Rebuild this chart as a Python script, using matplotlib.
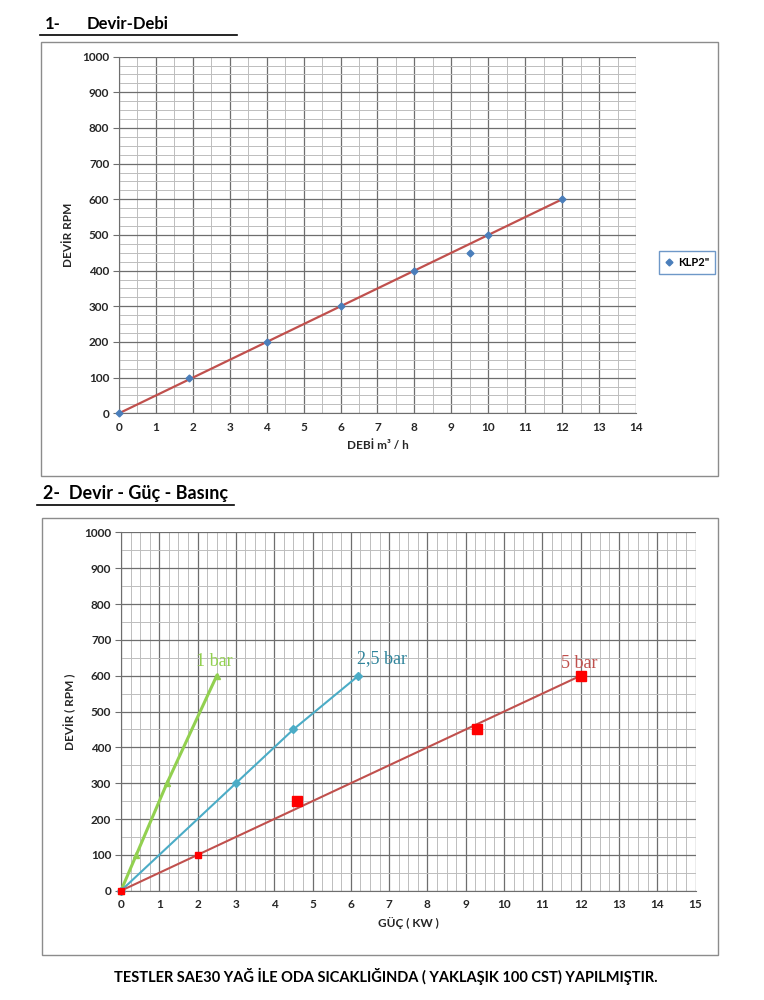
import numpy as np
import matplotlib.pyplot as plt
from matplotlib.patches import Rectangle
from matplotlib.lines import Line2D
from matplotlib.ticker import MultipleLocator

plt.rcParams['font.family'] = ['Lato', 'DejaVu Sans']

# 1- Devir-Debi
debi = [0, 1.9, 4, 6, 8, 9.5, 10, 12]
devir1 = [0, 100, 200, 300, 400, 450, 500, 600]
trend1_x = [0, 12]
trend1_y = [0, 600]

# 2- Devir - Güç - Basınç
guc_1bar = [0, 0.4, 1.2, 2.5]
devir_1bar = [0, 100, 300, 600]
guc_25bar = [0, 3, 4.5, 6.2]
devir_25bar = [0, 300, 450, 600]
guc_5bar = [0, 2, 4.6, 9.3, 12]
devir_5bar = [0, 100, 250, 450, 600]
trend5_x = [0, 12]
trend5_y = [0, 600]

fig = plt.figure(figsize=(7.64, 10), dpi=100)

# outer frames, titles, underlines
def frame(x0, y0, x1, y1):
    fig.patches.append(Rectangle((x0 / 764, 1 - y1 / 1000), (x1 - x0) / 764, (y1 - y0) / 1000,
                                 transform=fig.transFigure, fill=False, ec='#8c8c8c', lw=1.0))

frame(41, 42, 718, 476)
frame(42, 518, 718, 955)
fig.text(45 / 764, 1 - 29 / 1000, '1-', fontsize=12, fontweight='bold', va='baseline')
fig.text(87 / 764, 1 - 29 / 1000, 'Devir-Debi', fontsize=12, fontweight='bold', va='baseline')
fig.add_artist(Line2D([40 / 764, 237 / 764], [1 - 35 / 1000] * 2, color='black', lw=1.2))
fig.text(43 / 764, 1 - 499 / 1000, '2-  Devir - Güç - Basınç', fontsize=13, fontweight='bold', va='baseline')
fig.add_artist(Line2D([37 / 764, 234 / 764], [1 - 505 / 1000] * 2, color='black', lw=1.2))
fig.text(386 / 764, 1 - 976 / 1000, 'TESTLER SAE30 YAĞ İLE ODA SICAKLIĞINDA ( YAKLAŞIK 100 CST) YAPILMIŞTIR.',
         fontsize=10.5, fontweight='bold', ha='center', va='center')


def style(ax, xmax, xminor, yminor):
    ax.set_xlim(0, xmax)
    ax.set_ylim(0, 1000)
    ax.xaxis.set_major_locator(MultipleLocator(1))
    ax.xaxis.set_minor_locator(MultipleLocator(xminor))
    ax.yaxis.set_major_locator(MultipleLocator(100))
    ax.yaxis.set_minor_locator(MultipleLocator(yminor))
    ax.grid(which='major', color='#6e6e6e', lw=0.9)
    ax.grid(which='minor', color='#bdbdbd', lw=0.7)
    ax.set_axisbelow(True)
    for s in ['top', 'right']:
        ax.spines[s].set_visible(False)
    ax.spines['left'].set_color('#6e6e6e')
    ax.spines['bottom'].set_color('#6e6e6e')
    ax.tick_params(which='minor', length=0)
    ax.tick_params(axis='y', which='major', length=4, color='#6e6e6e', labelsize=8.5, pad=3)
    ax.tick_params(axis='x', which='major', length=0, labelsize=8.5, pad=6)
    for lab in ax.get_xticklabels() + ax.get_yticklabels():
        lab.set_fontweight('bold')
        lab.set_color('#262626')


# chart 1
ax1 = fig.add_axes([119 / 764, 1 - 413.3 / 1000, 517 / 764, 356.7 / 1000])
style(ax1, 14, 0.5, 25)
ax1.plot(trend1_x, trend1_y, color='#c0504d', lw=1.6, zorder=3)
ax1.plot(debi, devir1, ls='none', marker='D', ms=3.5, color='#4a7ebb', zorder=4, clip_on=False, label='KLP2"')
ax1.set_xlabel('DEBİ m³ / h', fontsize=8.5, fontweight='bold', color='#262626', labelpad=5)
ax1.set_ylabel('DEVİR RPM', fontsize=8.5, fontweight='bold', color='#262626', labelpad=6)
leg = ax1.legend(loc='center left', bbox_to_anchor=(653 / 764, 1 - 262.5 / 1000), bbox_transform=fig.transFigure,
                 fontsize=8, frameon=True, fancybox=False, edgecolor='#4a7ebb', handlelength=0.8,
                 handletextpad=0.4, borderpad=0.55, markerscale=1.0)
leg.get_frame().set_linewidth(1.0)
for t in leg.get_texts():
    t.set_fontweight('bold')

# chart 2
ax2 = fig.add_axes([121 / 764, 1 - 890.7 / 1000, 574.5 / 764, 358.3 / 1000])
style(ax2, 15, 0.25, 50)
ax2.plot(guc_1bar, devir_1bar, color='#92d050', lw=2.2, marker='^', ms=5, zorder=3, clip_on=False)
ax2.plot(guc_25bar, devir_25bar, color='#4bacc6', lw=1.5, marker='D', ms=4, zorder=3, clip_on=False)
ax2.plot(trend5_x, trend5_y, color='#c0504d', lw=1.5, zorder=3)
ax2.plot(guc_5bar, devir_5bar, ls='none', marker='s', color='#ff0000', zorder=4, clip_on=False,
         ms=5)
ax2.plot(guc_5bar[2:], devir_5bar[2:], ls='none', marker='s', color='#ff0000', zorder=4, ms=7.5)
ax2.text(1.95, 628, '1 bar', color='#92d050', fontsize=13, family='Liberation Serif')
ax2.text(6.15, 635, '2,5 bar', color='#31859c', fontsize=13, family='Liberation Serif')
ax2.text(11.5, 622, '5 bar', color='#c0504d', fontsize=13, family='Liberation Serif')
ax2.set_xlabel('GÜÇ ( KW )', fontsize=8.5, fontweight='bold', color='#262626', labelpad=5)
ax2.set_ylabel('DEVİR ( RPM )', fontsize=8.5, fontweight='bold', color='#262626', labelpad=6)

fig.savefig('out.png', dpi=100)
